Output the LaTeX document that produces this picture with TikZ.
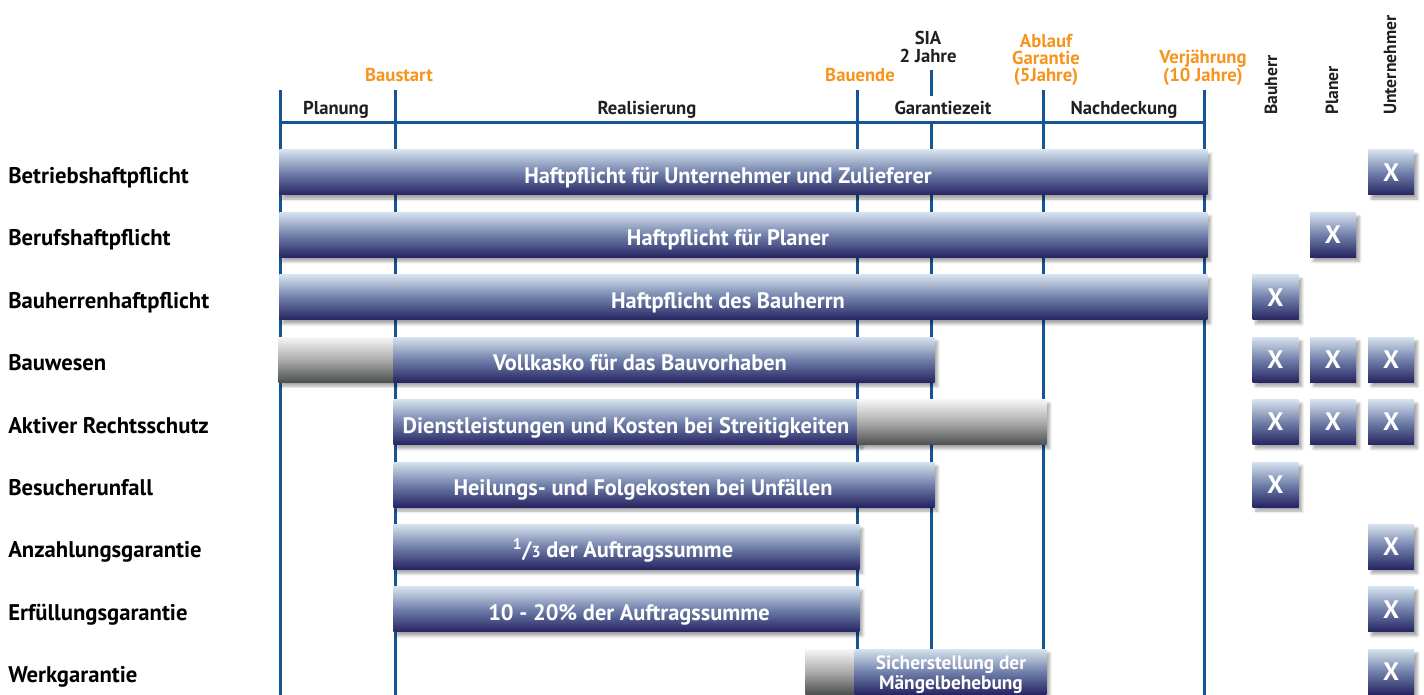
\documentclass[tikz,border=0pt]{standalone}
\usepackage{fontspec}
\setmainfont{PT Sans}
\usetikzlibrary{shadows.blur}

\definecolor{lineblue}{RGB}{22,84,150}
\definecolor{msorange}{RGB}{247,148,30}
\definecolor{headgrey}{RGB}{35,31,32}
\definecolor{bartop}{RGB}{214,226,238}
\definecolor{barmid}{RGB}{112,128,170}
\definecolor{barbot}{RGB}{38,36,98}
\definecolor{greytop}{RGB}{246,246,246}
\definecolor{greymid}{RGB}{172,172,172}
\definecolor{greybot}{RGB}{78,80,80}

\begin{document}
\begin{tikzpicture}[x=0.75pt,y=-0.75pt,
    axis/.style={draw=lineblue,line width=2.25pt},
    bar/.style={anchor=west,inner sep=0,minimum height=33.75pt,
      top color=bartop,bottom color=barbot,middle color=barmid,
      blur shadow={shadow xshift=2.5pt,shadow yshift=-3pt,shadow blur steps=6,shadow opacity=35}},
    greybar/.style={bar,top color=greytop,bottom color=greybot,middle color=greymid},
    wd/.style={minimum width=#1*0.75pt},
    xbox/.style={bar,anchor=center,minimum width=34.5pt,text=white,
      font=\fontsize{19}{20}\selectfont\bfseries},
    rowlabel/.style={anchor=base west,inner sep=0,text=black,
      font=\fontsize{17}{19}\selectfont\bfseries},
    bartext/.style={anchor=base,inner sep=0,text=white,
      font=\fontsize{16.8}{19}\selectfont\bfseries},
    phase/.style={anchor=base,text=headgrey,
      font=\fontsize{14}{16}\selectfont\bfseries},
    milestone/.style={anchor=south,inner sep=0,text depth=0pt,align=center,text=msorange,
      font=\fontsize{14}{12.75}\selectfont\bfseries},
    party/.style={anchor=base west,inner sep=0,rotate=90,text=headgrey,
      font=\fontsize{13.2}{16}\selectfont\bfseries}]

\useasboundingbox (0,0) rectangle (1424,695);

% time axis
\coordinate (plan t) at (280,90);   \coordinate (plan b) at (280,695);
\coordinate (start t) at (395,90);  \coordinate (start b) at (395,695);
\coordinate (ende t) at (857,90);   \coordinate (ende b) at (857,695);
\coordinate (sia t) at (931,70);    \coordinate (sia b) at (931,695);
\coordinate (ablauf t) at (1043,90); \coordinate (ablauf b) at (1043,695);
\coordinate (verj t) at (1204,90);  \coordinate (verj b) at (1204,695);

\draw [axis] (plan t) -- (plan b);
\draw [axis] (start t) -- (start b);
\draw [axis] (ende t) -- (ende b);
\draw [axis] (sia t) -- (sia b);
\draw [axis] (ablauf t) -- (ablauf b);
\draw [axis] (verj t) -- (verj b);

\node [phase] (planung) at (336,115) {Planung};
\node [phase] (realisierung) at (647,115) {Realisierung};
\node [phase, fill=white, inner ysep=4pt] (garantiezeit) at (943,115) {Garantiezeit};
\node [phase] (nachdeckung) at (1124,115) {Nachdeckung};

\coordinate (axis l) at (280,123);
\coordinate (axis r) at (1204,123);
\draw [axis] (axis l) -- (axis r);

% milestones
\node [milestone] (baustart) at (399,82) {Baustart};
\node [milestone] (bauende) at (860,82) {Bauende};
\node [milestone, text=headgrey, font=\fontsize{14}{13.5}\selectfont\bfseries] (sia) at (928,63) {SIA\\2 Jahre};
\node [milestone] (ablauf) at (1046,82) {Ablauf\\Garantie\\(5Jahre)};
\node [milestone] (verjaehrung) at (1203,82) {Verjährung\\(10 Jahre)};

% parties
\node [party] (bauherr) at (1277,115) {Bauherr};
\node [party] (planer) at (1338,115) {Planer};
\node [party] (unternehmer) at (1396,115) {Unternehmer};

% insurances
\node [rowlabel] (betrieb) at (8,183.5) {Betriebshaftpflicht};
\node [rowlabel] (beruf) at (8,245.9) {Berufshaftpflicht};
\node [rowlabel] (bauherrhp) at (8,308.3) {Bauherrenhaftpflicht};
\node [rowlabel] (bauwesen) at (8,370.7) {Bauwesen};
\node [rowlabel] (recht) at (8,433.1) {Aktiver Rechtsschutz};
\node [rowlabel] (besucher) at (8,495.5) {Besucherunfall};
\node [rowlabel] (anzahlung) at (8,557.9) {Anzahlungsgarantie};
\node [rowlabel] (erfuellung) at (8,620.3) {Erfüllungsgarantie};
\node [rowlabel] (werk) at (8,682.7) {Werkgarantie};

% bars
\node [bar, wd=928] (betrieb bar) at (279,172.5) {};
\node [bartext] at (728,183.5) {Haftpflicht für Unternehmer und Zulieferer};
\node [bar, wd=928] (beruf bar) at (279,234.9) {};
\node [bartext] at (728,245.9) {Haftpflicht für Planer};
\node [bar, wd=928] (bauherrhp bar) at (279,297.3) {};
\node [bartext] at (728,308.3) {Haftpflicht des Bauherrn};

\node [greybar, wd=115] (bauwesen pre) at (278,359.7) {};
\node [bar, wd=541] (bauwesen bar) at (393,359.7) {};
\node [bartext] at (640,370.7) {Vollkasko für das Bauvorhaben};

\node [bar, wd=466] (recht bar) at (393,422.1) {};
\node [greybar, wd=189] (recht post) at (857,422.1) {};
\node [bartext] at (626,433.1) {Dienstleistungen und Kosten bei Streitigkeiten};

\node [bar, wd=541] (besucher bar) at (393,484.5) {};
\node [bartext] at (643,495.5) {Heilungs- und Folgekosten bei Unfällen};

\node [bar, wd=466] (anzahlung bar) at (393,546.9) {};
\node [bartext] at (623,557.9) {\textsuperscript{1}/{\fontsize{12}{14}\selectfont 3} der Auftragssumme};
\node [bar, wd=466] (erfuellung bar) at (393,609.3) {};
\node [bartext] at (629,620.3) {10 - 20\% der Auftragssumme};

\node [greybar, wd=49] (werk pre) at (805,671.7) {};
\node [bar, wd=192] (werk bar) at (854,671.7) {};
\node [bartext, anchor=south, text depth=0pt, align=center,
  font=\fontsize{14.5}{15}\selectfont\bfseries] at (951,690) {Sicherstellung der\\Mängelbehebung};

% who takes out the policy
\node [xbox] (x1u) at (1391,172.5) {X};
\node [xbox] (x2p) at (1333,234.9) {X};
\node [xbox] (x3b) at (1275.5,297.3) {X};
\node [xbox] (x4b) at (1275.5,359.7) {X};
\node [xbox] (x4p) at (1333,359.7) {X};
\node [xbox] (x4u) at (1391,359.7) {X};
\node [xbox] (x5b) at (1275.5,422.1) {X};
\node [xbox] (x5p) at (1333,422.1) {X};
\node [xbox] (x5u) at (1391,422.1) {X};
\node [xbox] (x6b) at (1275.5,484.5) {X};
\node [xbox] (x7u) at (1391,546.9) {X};
\node [xbox] (x8u) at (1391,609.3) {X};
\node [xbox] (x9u) at (1391,671.7) {X};

\end{tikzpicture}
\end{document}
